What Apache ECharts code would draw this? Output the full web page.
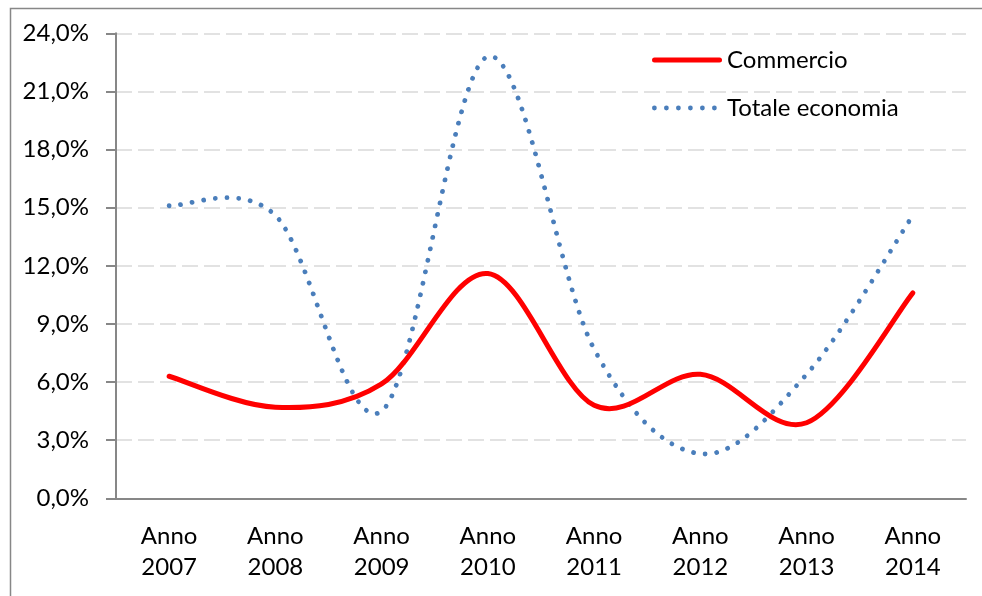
<!DOCTYPE html>
<html>
<head>
<meta charset="utf-8">
<script src="https://cdn.jsdelivr.net/npm/echarts@6/dist/echarts.min.js"></script>
<style>
  html, body { margin: 0; padding: 0; background: #fff; }
  #chart { width: 982px; height: 596px; }
</style>
</head>
<body>
<div id="chart"></div>
<script>
// Years on the category axis
const years = ['2007', '2008', '2009', '2010', '2011', '2012', '2013', '2014'];
const categories = years.map(y => 'Anno\n' + y);

// Percentage values per year
const commercio = [6.3, 4.7, 5.9, 11.6, 4.8, 6.4, 3.9, 10.6];
const totaleEconomia = [15.1, 14.6, 4.5, 22.8, 7.7, 2.3, 6.4, 14.6];

// Value-axis ticks
const yMin = 0, yMax = 24, yStep = 3;

const FONT = 'Lato, "Liberation Sans", sans-serif';
const FONT_SIZE = 24;
const AXIS_GREY = '#878787';
const RED = '#ff0000';
const BLUE = '#4a7ebb';

// Cubic Bezier through every point (Catmull-Rom tangents), so the curve
// may swing past a point the way spreadsheet "smoothed lines" do.
function smoothPath(pts) {
  const n = pts.length;
  const p = i => pts[Math.max(0, Math.min(n - 1, i))];
  let d = 'M' + pts[0][0] + ',' + pts[0][1];
  for (let i = 0; i < n - 1; i++) {
    const p0 = p(i - 1), p1 = p(i), p2 = p(i + 1), p3 = p(i + 2);
    const c1x = p1[0] + (p2[0] - p0[0]) / 6, c1y = p1[1] + (p2[1] - p0[1]) / 6;
    const c2x = p2[0] - (p3[0] - p1[0]) / 6, c2y = p2[1] - (p3[1] - p1[1]) / 6;
    d += ' C' + c1x + ',' + c1y + ' ' + c2x + ',' + c2y + ' ' + p2[0] + ',' + p2[1];
  }
  return d;
}

// One custom series per line: the whole curve is emitted with the first item.
function curveSeries(name, values, lineStyle) {
  return {
    name: name,
    type: 'custom',
    coordinateSystem: 'cartesian2d',
    data: values.map((v, i) => [i, v]),
    encode: { x: 0, y: 1 },
    itemStyle: { color: lineStyle.stroke },
    renderItem: (params, api) => {
      if (params.dataIndexInside !== 0) return null;
      const pts = [];
      for (let k = 0; k < params.dataInsideLength; k++) {
        pts.push(api.coord([api.value(0, k), api.value(1, k)]));
      }
      return {
        type: 'path',
        shape: { pathData: smoothPath(pts) },
        style: Object.assign({ fill: 'none', lineCap: 'round', lineJoin: 'round' }, lineStyle)
      };
    }
  };
}

// Legend glyphs: a solid bar and a row of dots, each 70 px wide
const ICON_SOLID = 'path://M2.5,0 L67.5,0 A2.5,2.5 0 0 1 67.5,5 L2.5,5 A2.5,2.5 0 0 1 2.5,0 Z';
let dots = '';
for (let k = 0; k < 6; k++) {
  const cx = 2.4 + 12 * k;
  dots += 'M' + (cx - 2.4) + ',2.4 A2.4,2.4 0 1 0 ' + (cx + 2.4) + ',2.4 A2.4,2.4 0 1 0 ' + (cx - 2.4) + ',2.4 Z ';
}
const ICON_DOTS = 'path://' + dots + 'M70,2.4 L70,2.4';

const chart = echarts.init(document.getElementById('chart'), null, { renderer: 'canvas' });

chart.setOption({
  animation: false,
  backgroundColor: '#ffffff',
  textStyle: { fontFamily: FONT, color: '#000' },
  graphic: [{
    type: 'rect',
    left: 8, top: 6,
    shape: { width: 1000, height: 620 },
    style: { fill: 'none', stroke: AXIS_GREY, lineWidth: 1.5 },
    silent: true
  }],
  grid: { left: 116, right: 16, top: 33.3, bottom: 97.7, containLabel: false },
  legend: {
    orient: 'vertical',
    left: 652, top: 48,
    padding: 0,
    itemWidth: 70, itemHeight: 24, itemGap: 24,
    textStyle: { fontFamily: FONT, fontSize: FONT_SIZE, color: '#000', lineHeight: 24 },
    data: [
      { name: 'Commercio', icon: ICON_SOLID },
      { name: 'Totale economia', icon: ICON_DOTS }
    ]
  },
  xAxis: {
    type: 'category',
    data: categories,
    boundaryGap: true,
    axisLine: { lineStyle: { color: AXIS_GREY, width: 2 } },
    axisTick: { show: false },
    axisLabel: { fontFamily: FONT, fontSize: FONT_SIZE, color: '#000', lineHeight: 31, margin: 22, interval: 0 },
    splitLine: { show: false }
  },
  yAxis: {
    type: 'value',
    min: yMin, max: yMax, interval: yStep,
    axisLine: { show: true, lineStyle: { color: AXIS_GREY, width: 2 } },
    axisTick: { show: true, length: 10, lineStyle: { color: AXIS_GREY, width: 2 } },
    axisLabel: {
      fontFamily: FONT, fontSize: FONT_SIZE, color: '#000', margin: 27,
      formatter: v => v.toFixed(1).replace('.', ',') + '%'
    },
    splitLine: { show: true, lineStyle: { color: '#d9d9d9', width: 1.6, type: [16, 6] } }
  },
  series: [
    Object.assign(curveSeries('Commercio', commercio, { stroke: RED, lineWidth: 5 }), { z: 3 }),
    Object.assign(curveSeries('Totale economia', totaleEconomia,
      { stroke: BLUE, lineWidth: 4.8, lineDash: [0.01, 11.7] }), { z: 2 })
  ]
});
</script>
</body>
</html>
